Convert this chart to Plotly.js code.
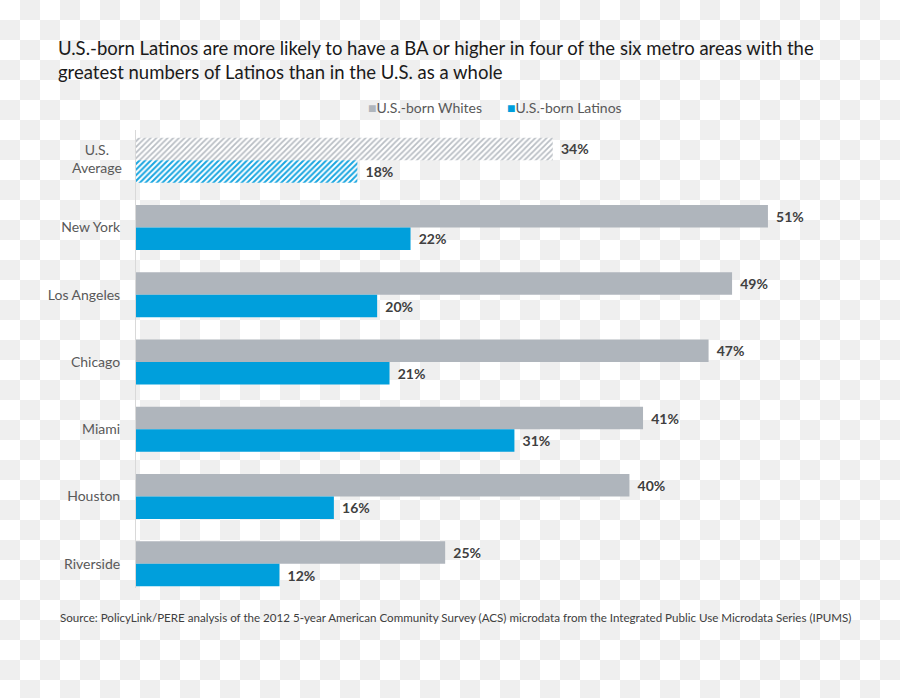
<!DOCTYPE html>
<html>
<head>
<meta charset="utf-8">
<script src="https://cdn.plot.ly/plotly-3.0.1.min.js"></script>
<style>
  html, body { margin: 0; padding: 0; }
  body {
    width: 900px; height: 698px; overflow: hidden;
    background: repeating-conic-gradient(#efefef 0 25%, #ffffff 0 50%) 0 0 / 40px 40px;
  }
  #chart { width: 900px; height: 698px; }
</style>
</head>
<body>
<div id="chart"></div>
<script>
// Data
const averageCategory = "U.S. Average";
const cityCategories = ["New York", "Los Angeles", "Chicago", "Miami", "Houston", "Riverside"];
const whitesAverage = 33.7;
const latinosAverage = 17.9;
const whitesAverageLabel = "34%";
const latinosAverageLabel = "18%";
const whitesValues = [51.1, 48.2, 46.3, 41.0, 39.9, 25.0];
const latinosValues = [22.2, 19.5, 20.5, 30.6, 16.0, 11.6];
const whitesLabels = ["51%", "49%", "47%", "41%", "40%", "25%"];
const latinosLabels = ["22%", "20%", "21%", "31%", "16%", "12%"];
const seriesNames = ["U.S.-born Whites", "U.S.-born Latinos"];

const allCategories = [averageCategory].concat(cityCategories);
const FONT = "Lato, 'Open Sans', sans-serif";
const grayColor = "#afb5bc";
const blueColor = "#009fdc";
const labelFont = { family: FONT, size: 14, color: "#404040", weight: "bold" };
const TT = "\u00a0\u2009%{text}";

function px2x(px) { return (px - 136) / 742; }

const traces = [
  {
    type: "bar", orientation: "h", name: seriesNames[0], offsetgroup: "w",
    y: cityCategories, x: whitesValues, text: whitesLabels, texttemplate: TT,
    textposition: "outside", cliponaxis: false, textfont: labelFont,
    marker: { color: grayColor, line: { width: 0 } },
    hoverinfo: "none"
  },
  {
    type: "bar", orientation: "h", name: seriesNames[1], offsetgroup: "l",
    y: cityCategories, x: latinosValues, text: latinosLabels, texttemplate: TT,
    textposition: "outside", cliponaxis: false, textfont: labelFont,
    marker: { color: blueColor, line: { width: 0 } },
    hoverinfo: "none"
  },
  {
    type: "bar", orientation: "h", name: seriesNames[0], offsetgroup: "w", showlegend: false,
    y: [averageCategory], x: [whitesAverage], text: [whitesAverageLabel], texttemplate: TT,
    textposition: "outside", cliponaxis: false, textfont: labelFont,
    marker: {
      color: grayColor, line: { width: 0 },
      pattern: { shape: "/", fgcolor: "#b9bec4", bgcolor: "rgba(255,255,255,0.92)", size: 4, solidity: 0.45, fillmode: "replace" }
    },
    hoverinfo: "none"
  },
  {
    type: "bar", orientation: "h", name: seriesNames[1], offsetgroup: "l", showlegend: false,
    y: [averageCategory], x: [latinosAverage], text: [latinosAverageLabel], texttemplate: TT,
    textposition: "outside", cliponaxis: false, textfont: labelFont,
    marker: {
      color: blueColor, line: { width: 0 },
      pattern: { shape: "/", fgcolor: "#1aa6e0", bgcolor: "rgba(255,255,255,0.92)", size: 4, solidity: 0.5, fillmode: "replace" }
    },
    hoverinfo: "none"
  }
];

const layout = {
  width: 900, height: 698,
  paper_bgcolor: "rgba(0,0,0,0)",
  plot_bgcolor: "rgba(0,0,0,0)",
  margin: { l: 136, r: 22, t: 130, b: 110 },
  font: { family: FONT, color: "#595959" },
  title: {
    text: "U.S.-born Latinos are more likely to have a BA or higher in four of the six metro areas with the<br>greatest numbers of Latinos than in the U.S. as a whole",
    font: { family: FONT, size: 18.5, color: "#1a1a1a" },
    x: 58 / 900, xanchor: "left", xref: "container",
    y: 1 - 55 / 698, yanchor: "top", yref: "container",
    align: "left"
  },
  barmode: "group",
  bargap: 0.33,
  bargroupgap: 0,
  showlegend: false,
  xaxis: {
    range: [0, 60], showgrid: false, zeroline: false,
    showticklabels: false, showline: false, ticks: ""
  },
  yaxis: {
    type: "category",
    categoryorder: "array", categoryarray: allCategories,
    tickmode: "array", tickvals: cityCategories, ticktext: cityCategories,
    range: [6.36, -0.45],
    showgrid: false, zeroline: false,
    showline: true, linecolor: "#d9d9d9", linewidth: 1,
    ticks: "", ticklabelstandoff: 12,
    tickfont: { family: FONT, size: 14, color: "#595959" }
  },
  annotations: [
    {
      text: "U.S.<br>Average", xref: "paper", yref: "y",
      x: px2x(97), xanchor: "center", y: averageCategory, yanchor: "middle",
      yshift: 2, align: "center", showarrow: false,
      font: { family: FONT, size: 14, color: "#595959" }
    },
    {
      text: "<span style='color:" + grayColor + "'>■</span>" + seriesNames[0],
      xref: "paper", yref: "paper", x: px2x(366), xanchor: "left",
      y: 1 + (130 - 107) / 458, yanchor: "middle", showarrow: false,
      font: { family: FONT, size: 14, color: "#595959" }
    },
    {
      text: "<span style='color:" + blueColor + "'>■</span>" + seriesNames[1],
      xref: "paper", yref: "paper", x: px2x(505), xanchor: "left",
      y: 1 + (130 - 107) / 458, yanchor: "middle", showarrow: false,
      font: { family: FONT, size: 14, color: "#595959" }
    },
    {
      text: "Source: PolicyLink/PERE analysis of the 2012 5-year American Community Survey (ACS) microdata from the Integrated Public Use Microdata Series (IPUMS)",
      xref: "paper", yref: "paper",
      x: px2x(58), xanchor: "left",
      y: -(617 - 588) / 458, yanchor: "middle",
      showarrow: false,
      font: { family: FONT, size: 11.6, color: "#404040" }
    }
  ]
};

Plotly.newPlot("chart", traces, layout, { displayModeBar: false, staticPlot: true });
</script>
</body>
</html>
